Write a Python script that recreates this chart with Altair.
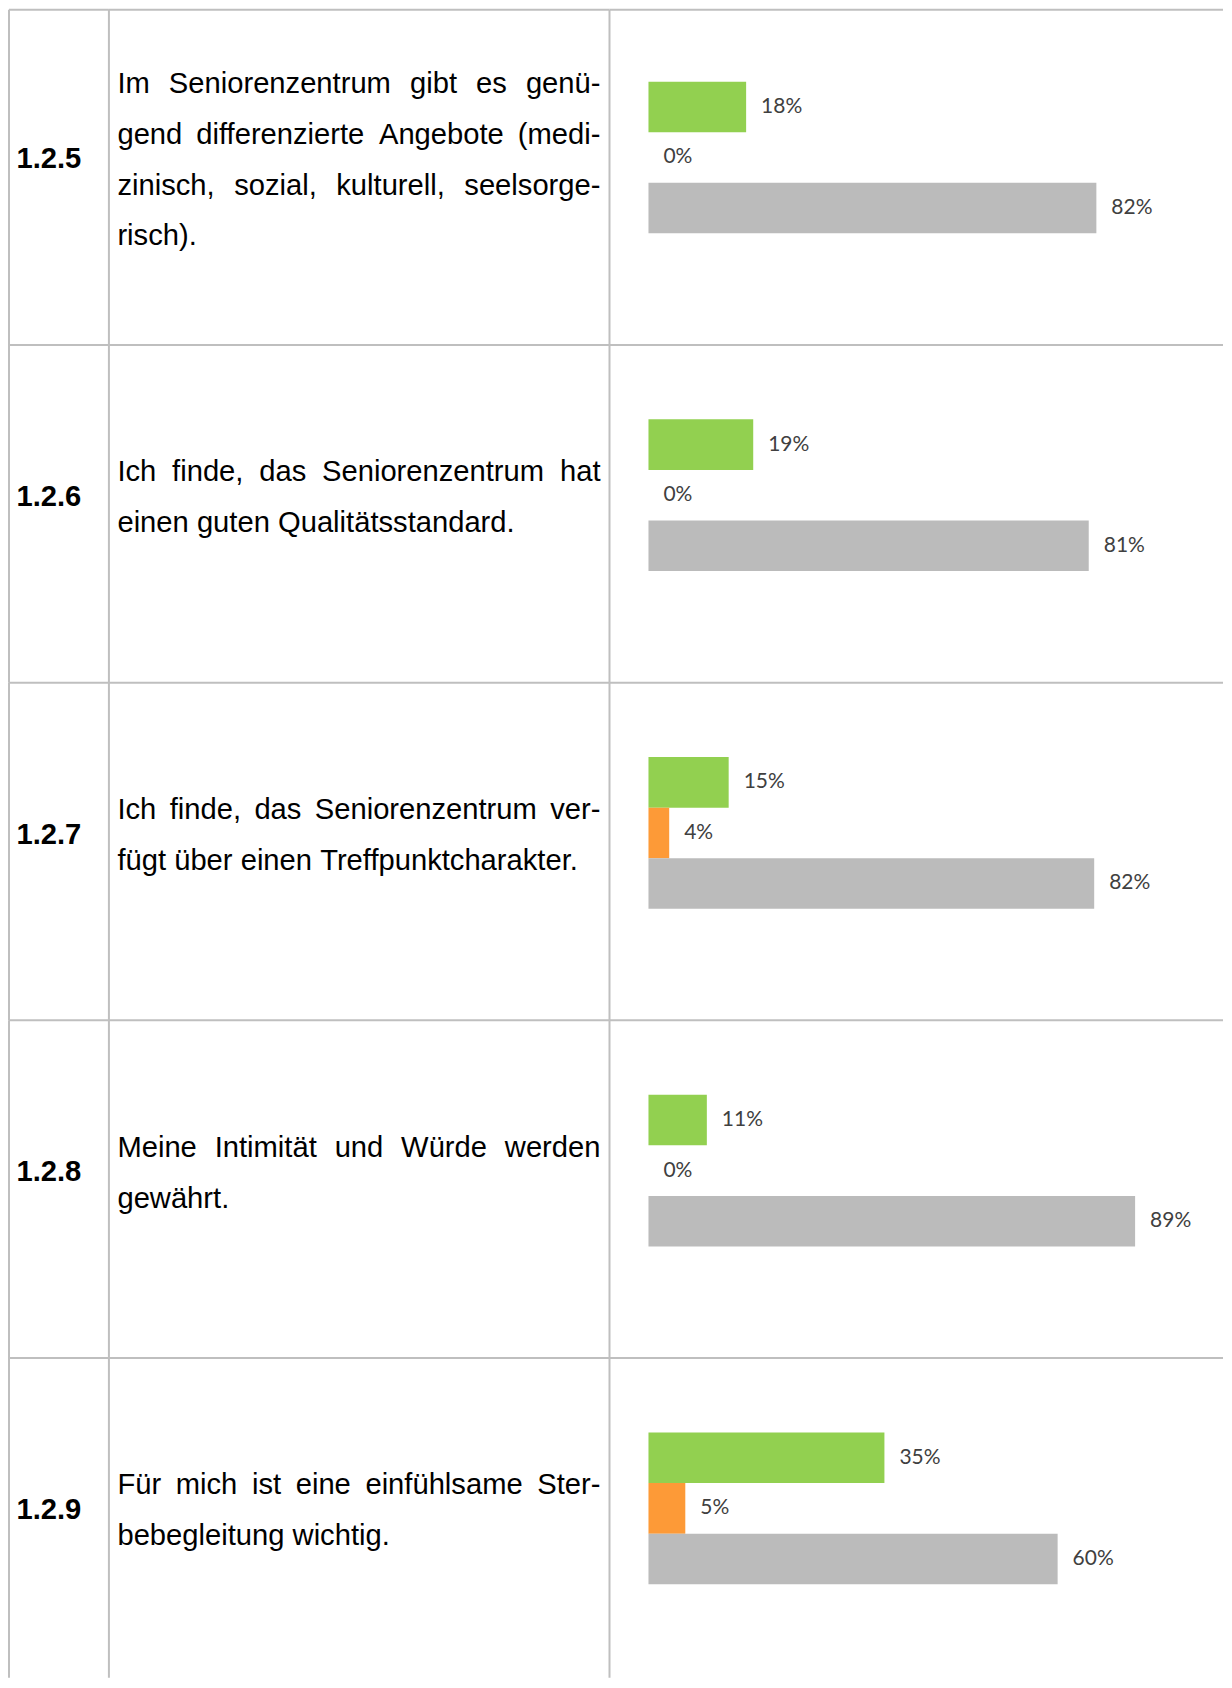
import altair as alt
import pandas as pd

# ---------------- data ----------------
ids = ["1.2.5", "1.2.6", "1.2.7", "1.2.8", "1.2.9"]
question_lines = [
    ["Im Seniorenzentrum gibt es genü-",
     "gend differenzierte Angebote (medi-",
     "zinisch, sozial, kulturell, seelsorge-",
     "risch)."],
    ["Ich finde, das Seniorenzentrum hat",
     "einen guten Qualitätsstandard."],
    ["Ich finde, das Seniorenzentrum ver-",
     "fügt über einen Treffpunktcharakter."],
    ["Meine Intimität und Würde werden",
     "gewährt."],
    ["Für mich ist eine einfühlsame Ster-",
     "bebegleitung wichtig."],
]
series = ["Serie 1", "Serie 2", "Serie 3"]
series_colors = ["#92d050", "#fd9a37", "#bbbbbb"]
green_vals = [0.179, 0.192, 0.147, 0.107, 0.346]
orange_vals = [0.0, 0.0, 0.038, 0.0, 0.054]
gray_vals = [0.821, 0.807, 0.817, 0.892, 0.600]
axis_max = [1.0, 1.0, 1.0, 1.0, 0.8]

# ---------------- layout / style ----------------
LINE = "#bfbfbf"
COL_W = [100, 501, 614]
ROW_H = [338, 338, 338, 338, 320]
FS = 29.2
LINE_STEP = 51
PARA_MID = 162
TEXT_LEFT = 8.5
TEXT_RIGHT = 492
BAR_TOP = 74.5
BAR_STEP = 50.6

# Arial / Liberation Sans advance widths (per 1000 em)
AW = {" ": 278, ",": 278, ".": 278, "-": 333, "(": 333, ")": 333}
AW.update(dict(zip("abcdefghijklmnopqrstuvwxyz",
                   [556, 556, 500, 556, 556, 278, 556, 556, 222, 222, 500, 222, 833,
                    556, 556, 556, 556, 333, 500, 278, 556, 500, 722, 500, 500, 500])))
AW.update(dict(zip("ABCDEFGHIJKLMNOPQRSTUVWXYZ",
                   [667, 667, 722, 722, 667, 611, 778, 722, 278, 500, 667, 556, 833,
                    722, 778, 667, 778, 722, 667, 611, 722, 667, 944, 667, 667, 611])))
AW.update({"ä": 556, "ö": 556, "ü": 556, "ß": 611})


def tw(s):
    return sum(AW.get(c, 556) for c in s) * FS / 1000.0


def rules(W, H, top_y=0):
    base = alt.Chart(pd.DataFrame({"d": [0]}))
    top = base.mark_rule(color=LINE, strokeWidth=2).encode(
        x=alt.value(0), x2=alt.value(W), y=alt.value(top_y))
    left = base.mark_rule(color=LINE, strokeWidth=2).encode(
        x=alt.value(0), y=alt.value(top_y), y2=alt.value(H))
    return [top, left]


cells = []
for i in range(len(ids)):
    H = ROW_H[i]
    ty = 2.5 if i == 0 else 0  # keep the outer top border fully visible

    # number cell
    num_df = pd.DataFrame({"id": [ids[i]], "x": [7.5], "y": [PARA_MID - 1]})
    num = alt.Chart(num_df).mark_text(
        font="Liberation Sans", fontSize=FS, fontWeight="bold", color="#000000",
        align="left", baseline="alphabetic").encode(
        x=alt.X("x:Q", scale=None), y=alt.Y("y:Q", scale=None), text="id:N")
    cells.append(alt.layer(*rules(COL_W[0], H, ty), num).properties(width=COL_W[0], height=H))

    # question text cell (justified)
    lines = question_lines[i]
    n = len(lines)
    wrows = []
    for k, line in enumerate(lines):
        ws = line.split(" ")
        widths = [tw(w) for w in ws]
        last = (k == n - 1)
        if last or len(ws) == 1:
            gap = tw(" ")
        else:
            gap = (TEXT_RIGHT - TEXT_LEFT - sum(widths)) / (len(ws) - 1)
        x = TEXT_LEFT
        yb = PARA_MID + (k - (n - 1) / 2.0) * LINE_STEP
        for w, wd in zip(ws, widths):
            wrows.append({"word": w, "x": x, "y": yb})
            x += wd + gap
    txt = alt.Chart(pd.DataFrame(wrows)).mark_text(
        font="Liberation Sans", fontSize=FS, color="#000000",
        align="left", baseline="alphabetic").encode(
        x=alt.X("x:Q", scale=None), y=alt.Y("y:Q", scale=None), text="word:N")
    cells.append(alt.layer(*rules(COL_W[1], H, ty), txt).properties(width=COL_W[1], height=H))

    # bar cell
    bdf = pd.DataFrame({"serie": series,
                        "value": [green_vals[i], orange_vals[i], gray_vals[i]]})
    yenc = alt.Y("serie:N", sort=series, axis=None,
                 scale=alt.Scale(domain=series, paddingInner=0, paddingOuter=0,
                                 range=[BAR_TOP, BAR_TOP + 3 * BAR_STEP]))
    xenc = alt.X("value:Q", axis=None,
                 scale=alt.Scale(domain=[0, axis_max[i]], range=[39, 585], nice=False))
    bars = alt.Chart(bdf).mark_bar().encode(
        x=xenc, y=yenc,
        color=alt.Color("serie:N", scale=alt.Scale(domain=series, range=series_colors),
                        legend=None))
    labels = alt.Chart(bdf).mark_text(
        font="Lato", fontSize=21, color="#404040", align="left",
        baseline="middle", dx=15).encode(
        x=xenc, y=yenc, text=alt.Text("value:Q", format=".0%"))
    cells.append(alt.layer(*rules(COL_W[2], H, ty), bars, labels).properties(width=COL_W[2], height=H))

chart = alt.concat(*cells, columns=3, spacing=0, bounds="flush").properties(
    padding={"left": 0, "top": -1.5, "right": 0, "bottom": 0},
    background="#ffffff").configure_view(stroke=None)

chart.save("out.html", embed_options={"renderer": "svg", "actions": False})
